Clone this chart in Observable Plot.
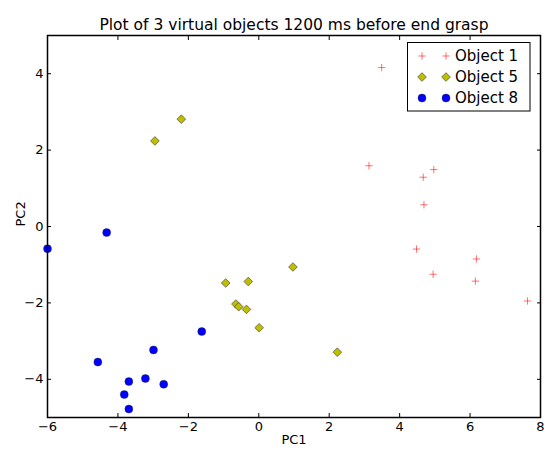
<!DOCTYPE html>
<html>
<head>
<meta charset="utf-8">
<script src="https://cdn.jsdelivr.net/npm/d3@7"></script>
<script src="https://cdn.jsdelivr.net/npm/@observablehq/plot@0.6"></script>
<style>
  html, body { margin: 0; padding: 0; background: #fff; }
  svg { font-family: "DejaVu Sans", sans-serif; }
</style>
</head>
<body>
<div id="chart"></div>
<script>
const title = "Plot of 3 virtual objects 1200 ms before end grasp";
const xTicks = [-6, -4, -2, 0, 2, 4, 6, 8];
const yTicks = [-4, -2, 0, 2, 4];

const obj1X = [3.49, 3.13, 4.67, 4.97, 4.69, 4.48, 6.18, 4.95, 6.15, 7.63];
const obj1Y = [4.16, 1.59, 1.29, 1.49, 0.57, -0.59, -0.85, -1.25, -1.43, -1.95];

const obj5X = [-2.20, -2.95, -0.94, -0.30, 0.97, -0.65, -0.57, -0.35, 0.01, 2.23];
const obj5Y = [2.81, 2.24, -1.48, -1.44, -1.06, -2.03, -2.10, -2.17, -2.65, -3.29];

const obj8X = [-6.0, -4.32, -4.57, -3.69, -3.82, -3.69, -3.22, -2.70, -2.99, -1.62];
const obj8Y = [-0.58, -0.16, -3.55, -4.06, -4.40, -4.78, -3.98, -4.13, -3.23, -2.75];

const seriesNames = ["Object 1", "Object 5", "Object 8"];

const d1 = obj1X.map((x, i) => ({x, y: obj1Y[i]}));
const d5 = obj5X.map((x, i) => ({x, y: obj5Y[i]}));
const d8 = obj8X.map((x, i) => ({x, y: obj8Y[i]}));

const styles = [
  {symbol: "plus", r: 2.5, stroke: "rgba(255,0,0,0.55)", fill: "none", strokeWidth: 1},
  {symbol: "diamond2", r: 3.9, stroke: "#333", fill: "#bfbf00", strokeWidth: 0.6},
  {symbol: "circle", r: 4, stroke: "#222", fill: "#0000ff", strokeWidth: 0.4}
];

const fs = 13;
const chart = Plot.plot({
  width: 549,
  height: 451,
  marginLeft: 47,
  marginRight: 9,
  marginTop: 35,
  marginBottom: 34,
  style: {fontFamily: "DejaVu Sans, sans-serif", background: "#fff", overflow: "visible"},
  x: {domain: [-6, 8]},
  y: {domain: [-5, 5]},
  marks: [
    Plot.axisX(xTicks, {anchor: "bottom", tickSize: 0, tickPadding: 4, fontSize: fs, fill: "#000", label: null}),
    Plot.axisX(xTicks, {anchor: "bottom", tickSize: -4, tickFormat: () => "", label: null, stroke: "#000"}),
    Plot.axisX(xTicks, {anchor: "top", tickSize: -4, tickFormat: () => "", label: null, stroke: "#000"}),
    Plot.axisY(yTicks, {anchor: "left", tickSize: 0, tickPadding: 4, fontSize: fs, fill: "#000", label: null}),
    Plot.axisY(yTicks, {anchor: "left", tickSize: -4, tickFormat: () => "", label: null, stroke: "#000"}),
    Plot.axisY(yTicks, {anchor: "right", tickSize: -4, tickFormat: () => "", label: null, stroke: "#000"}),
    Plot.dot(d1, {x: "x", y: "y", ...styles[0]}),
    Plot.dot(d5, {x: "x", y: "y", ...styles[1]}),
    Plot.dot(d8, {x: "x", y: "y", ...styles[2]}),
    Plot.frame({stroke: "#000", strokeWidth: 1.5}),
    Plot.text([title], {frameAnchor: "top", dy: -17, fontSize: 15.5, fill: "#000"}),
    Plot.text(["PC1"], {frameAnchor: "bottom", dy: 26, fontSize: fs, fill: "#000"}),
    Plot.text(["PC2"], {frameAnchor: "left", dx: -27, rotate: -90, fontSize: fs, fill: "#000"})
  ]
});

// legend drawn into the same svg
const svg = d3.select(chart);
const lg = svg.append("g").attr("class", "legend").attr("text-anchor", "start");
lg.append("rect")
  .attr("x", 407.5).attr("y", 42.5).attr("width", 122.5).attr("height", 68.5)
  .attr("fill", "#fff").attr("stroke", "#000").attr("stroke-width", 1);
const rowY = [56, 77, 98];
const symbols = {plus: d3.symbolPlus, diamond2: d3.symbolDiamond2, circle: d3.symbolCircle};
seriesNames.forEach((name, i) => {
  const s = styles[i];
  const sym = d3.symbol(symbols[s.symbol], Math.PI * s.r * s.r);
  [422, 446].forEach(mx => {
    lg.append("path")
      .attr("d", sym())
      .attr("transform", `translate(${mx},${rowY[i]})`)
      .attr("fill", s.fill).attr("stroke", s.stroke).attr("stroke-width", s.strokeWidth);
  });
  lg.append("text")
    .attr("x", 455).attr("y", rowY[i]).attr("dy", "0.35em")
    .attr("text-anchor", "start")
    .attr("font-size", 15).attr("fill", "#000")
    .text(name);
});

document.getElementById("chart").appendChild(chart);
</script>
</body>
</html>
